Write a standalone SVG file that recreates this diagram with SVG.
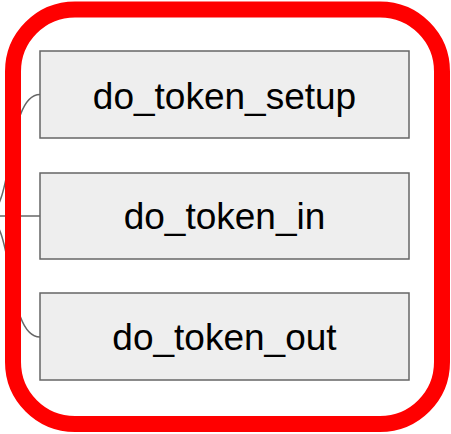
<svg xmlns="http://www.w3.org/2000/svg" width="451" height="434" viewBox="0 0 451 434">
<style>
.box{fill:#eeeeee;stroke:#666666;stroke-width:1.5}
.lbl{font-family:"Liberation Sans",Arial,sans-serif;font-size:37px;fill:#000000;text-anchor:middle}
.conn{fill:none;stroke:#666666;stroke-width:1.5}
</style>
<rect x="0" y="0" width="451" height="434" fill="#ffffff"/>
<g id="connectors">
<path class="conn" d="M -15 216 C 15 216 5 94.6 40 94.6"/>
<path class="conn" d="M -15 216 L 40 216"/>
<path class="conn" d="M -15 216 C 15 216 5 337 40 337"/>
</g>
<g id="node-setup">
<rect class="box" x="40" y="51" width="369" height="87"/>
<text class="lbl" x="224.5" y="109">do_token_setup</text>
</g>
<g id="node-in">
<rect class="box" x="40" y="173" width="369" height="86"/>
<text class="lbl" x="224.5" y="229">do_token_in</text>
</g>
<g id="node-out">
<rect class="box" x="40" y="293" width="369" height="87"/>
<text class="lbl" x="224.5" y="350">do_token_out</text>
</g>
<g id="highlight">
<rect x="13" y="9.5" width="429" height="414.5" rx="62" ry="62" fill="none" stroke="#ff0000" stroke-width="16"/>
</g>
</svg>
